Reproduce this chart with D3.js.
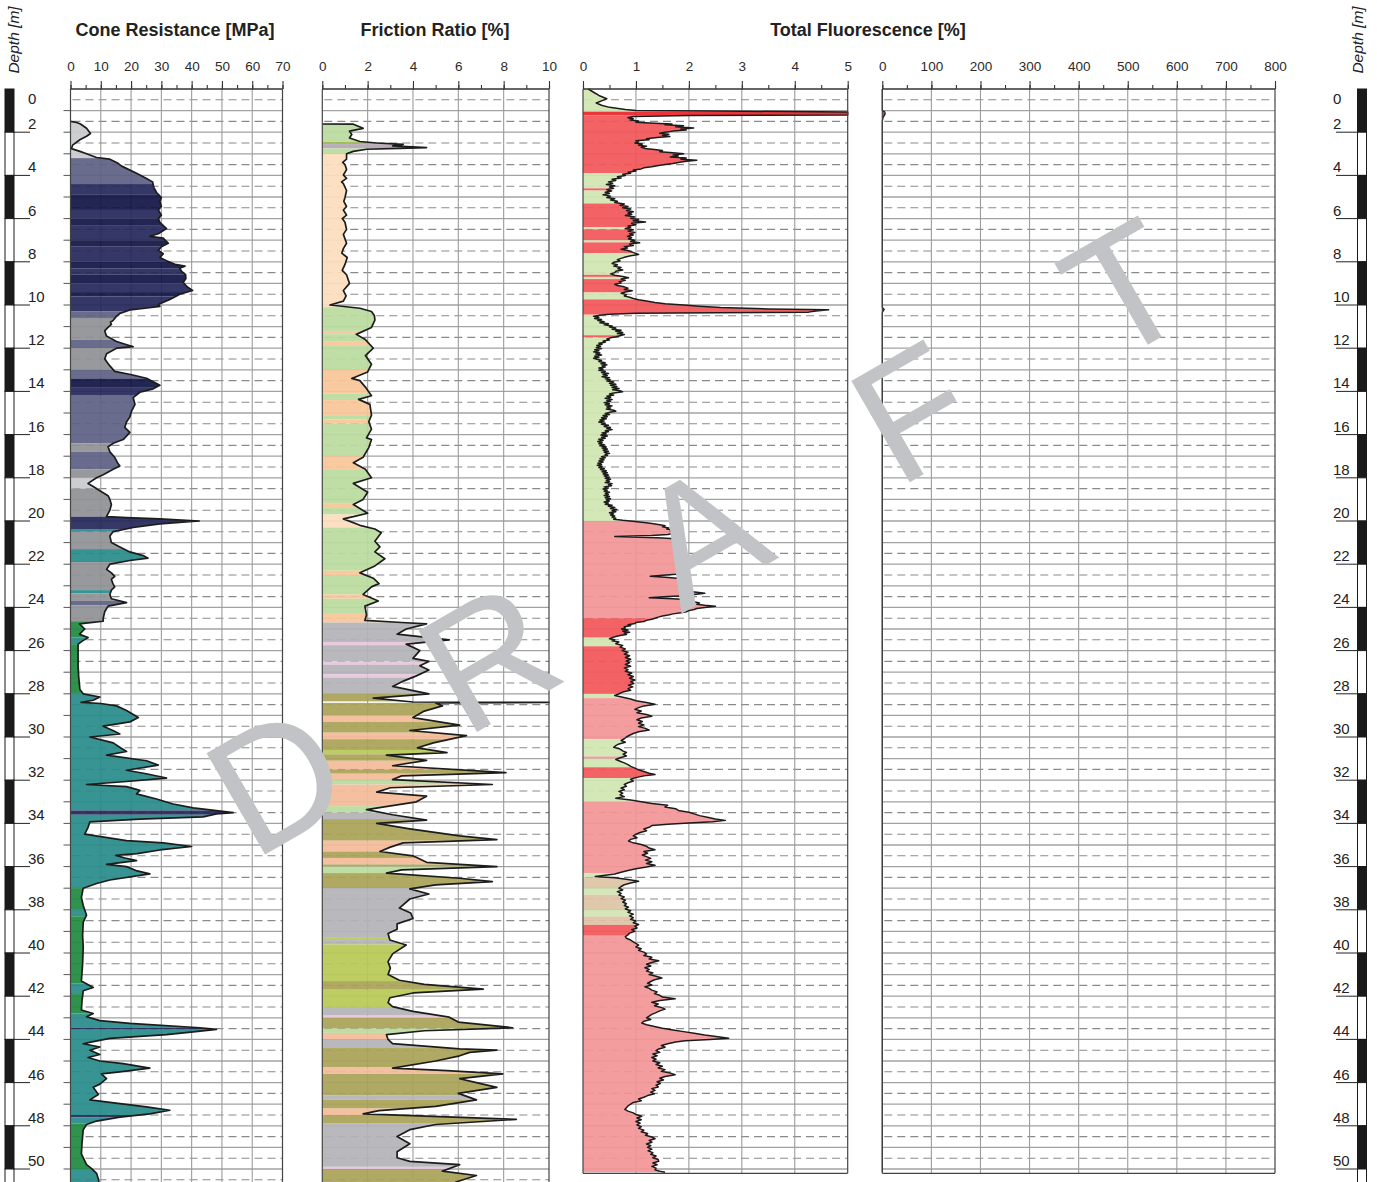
<!DOCTYPE html>
<html>
<head>
<meta charset="utf-8">
<script src="https://cdn.jsdelivr.net/npm/d3@7"></script>
<style>
  body { margin: 0; background: #fff; }
  svg { display: block; font-family: "Liberation Sans", Arial, sans-serif; }
</style>
</head>
<body>
<svg id="chart" width="1377" height="1182"></svg>
<script>
// ---- CPT log data: [depth (m), value] ----
const coneProfile = [[1.5,0],[1.55,2],[1.62,3.3],[1.82,5.3],[2.06,6.6],[2.19,5.3],[2.35,3.1],[2.6,0.7],[2.76,0.3],[2.89,3.1],[3.0,5.3],[3.17,8.6],[3.25,13],[3.44,15.7],[3.57,16.9],[3.9,21.8],[4.14,25.1],[4.3,27.1],[4.55,27.5],[4.79,28.4],[5.03,30],[5.2,29.5],[5.44,30],[5.6,29],[5.84,30],[6.0,29],[6.17,29.5],[6.46,31.7],[6.7,29],[6.82,26.2],[6.9,30.6],[7.14,32.3],[7.3,30],[7.47,29],[7.63,30.6],[7.8,29.5],[7.95,31.7],[8.12,34.5],[8.2,37.8],[8.3,36],[8.44,36.7],[8.6,38],[8.77,38.1],[8.96,37.2],[9.17,38.6],[9.33,40.3],[9.5,36.1],[9.74,32.8],[9.98,29],[10.06,29.5],[10.15,24.6],[10.23,19.6],[10.39,16.3],[10.55,15],[10.71,14.1],[10.8,13.2],[10.9,13.5],[11.05,12.3],[11.2,11.3],[11.44,11.9],[11.69,15.2],[11.93,20.7],[12.0,15.2],[12.26,11.9],[12.5,11.3],[12.82,13],[13.07,14.6],[13.23,20.2],[13.39,25.1],[13.72,29.5],[13.88,27.3],[14.04,22.9],[14.29,20.7],[14.6,21.3],[14.9,20.2],[15.18,19.6],[15.42,18.5],[15.67,17.9],[15.9,19.6],[16.23,17.4],[16.4,14.1],[16.56,12.4],[16.8,13],[17.05,14.6],[17.3,15.5],[17.45,16.3],[17.6,14.1],[17.86,10.8],[18.0,8.6],[18.26,5.8],[18.4,7.5],[18.6,9.7],[18.83,12.4],[19.0,13],[19.24,13.5],[19.5,13],[19.8,11.9],[19.84,18.5],[19.9,29.5],[20.0,42.5],[20.13,29.5],[20.3,20.7],[20.49,14.1],[20.7,13],[21.0,13.5],[21.2,16.3],[21.43,19.6],[21.6,24],[21.72,25.6],[21.83,19.6],[22.0,13],[22.24,11.9],[22.4,13.5],[22.56,14.6],[22.7,13.5],[22.9,14],[23.05,14.6],[23.2,13.5],[23.4,13],[23.6,13.5],[23.78,18.5],[23.94,12.4],[24.2,11.3],[24.5,10.8],[24.64,10.8],[24.76,3],[25.0,4.7],[25.24,3],[25.4,5.8],[25.55,4],[25.7,2.5],[26.0,2.5],[26.7,2.5],[27.2,2.7],[27.8,3.1],[28.0,4.2],[28.15,9.7],[28.3,7.5],[28.4,3.5],[28.45,10],[28.56,15.2],[28.77,18.5],[29.1,22.4],[29.3,19.6],[29.5,10.8],[29.7,14],[29.86,16.3],[30.0,6.4],[30.27,14.1],[30.5,16.5],[30.67,18.5],[30.84,11.9],[31.1,25.1],[31.3,29],[31.54,18.5],[31.7,25],[31.9,31.7],[32.06,18.5],[32.2,5.3],[32.3,18.5],[32.47,22.9],[32.63,21.8],[32.87,28.4],[33.1,33.9],[33.28,40.5],[33.5,53.7],[33.56,48.2],[33.7,43.8],[33.8,22.9],[33.93,6.4],[34.18,5.8],[34.5,4.7],[34.8,18.5],[34.9,30.6],[35.07,40],[35.23,29.5],[35.4,22],[35.48,15],[35.6,18],[35.72,21.8],[35.9,11.9],[36.0,18.5],[36.2,22],[36.34,26.2],[36.62,13],[36.78,8.6],[37.0,4.2],[37.43,3.6],[37.8,4.2],[38.25,5.3],[38.57,4.2],[39.2,4.0],[39.7,4.2],[40.5,4.0],[41.3,3.6],[41.6,7.5],[41.75,4.2],[42.2,3.8],[42.64,3.6],[42.8,7.5],[42.95,5.3],[43.13,9.7],[43.26,19.6],[43.46,42.7],[43.54,48.2],[43.65,40.5],[43.78,31.7],[43.95,13],[44.1,7.5],[44.2,4.2],[44.35,9.7],[44.5,6.4],[44.7,9.7],[44.84,5.8],[45.0,9.7],[45.12,17.4],[45.33,26.2],[45.5,16.3],[45.6,10.2],[45.82,11.9],[46.07,9.7],[46.22,7.5],[46.55,9.2],[46.8,6.4],[46.96,15.7],[47.12,25.1],[47.28,32.8],[47.45,26.2],[47.6,16.3],[47.78,8.6],[47.94,5.3],[48.18,4.2],[48.8,3.8],[49.3,3.6],[49.8,5.3],[49.97,6.9],[50.2,8.6],[50.46,9.2],[50.7,9.5],[51.0,9.0],[51.5,9.0]];

const frictionProfile = [[1.62,0],[1.63,1.37],[1.82,1.8],[1.95,1.2],[2.11,1.3],[2.27,1.2],[2.43,1.66],[2.5,2.4],[2.56,3.57],[2.63,3.1],[2.71,4.6],[2.75,3.4],[2.79,1.95],[2.89,1.37],[3.0,1.07],[3.25,1.07],[3.4,0.9],[3.5,1.0],[3.73,1.07],[3.98,0.93],[4.14,1.07],[4.3,0.85],[4.38,0.93],[4.7,1.07],[5.03,1.0],[5.2,0.95],[5.44,1.07],[5.6,0.93],[5.84,1.07],[6.0,0.88],[6.17,1.0],[6.5,1.07],[6.73,0.93],[7.14,1.07],[7.39,0.93],[7.6,0.86],[7.8,1.1],[8.12,1.0],[8.4,0.88],[8.6,1.07],[9.0,1.2],[9.33,0.93],[9.58,1.05],[9.82,0.93],[10.0,0.34],[10.15,1.66],[10.3,2.17],[10.5,2.3],[10.7,2.32],[11.04,2.17],[11.36,1.5],[11.6,1.9],[12.0,2.25],[12.34,1.9],[12.74,2.17],[13.1,2.0],[13.4,1.3],[13.5,1.66],[13.8,1.9],[14.2,2.17],[14.37,1.6],[14.6,2.1],[15.1,2.17],[15.4,2.05],[15.75,2.17],[16.15,1.95],[16.23,2.17],[16.6,2.05],[17.05,1.8],[17.3,1.37],[17.6,1.9],[18.0,2.17],[18.26,1.37],[18.67,2.0],[19.0,1.8],[19.24,1.37],[19.64,2.0],[19.8,1.37],[19.9,0.93],[20.2,1.66],[20.37,2.32],[20.54,2.6],[20.94,2.32],[21.2,2.54],[21.43,2.32],[21.75,2.76],[22.08,2.32],[22.4,1.66],[22.65,2.25],[22.9,2.5],[23.05,2.17],[23.4,1.8],[23.7,2.47],[23.94,1.88],[24.35,1.95],[24.6,1.88],[24.7,3.5],[24.76,4.6],[25.0,3.7],[25.24,3.3],[25.4,4.7],[25.5,5.6],[25.7,3.7],[26.0,4.3],[26.36,4.0],[26.5,4.7],[26.7,4.3],[26.9,4.7],[27.17,4.15],[27.4,3.6],[27.66,3.1],[28.0,4.7],[28.2,2.25],[28.38,4],[28.4,10],[28.42,5],[28.56,5.3],[28.8,4.5],[29.1,4.0],[29.45,6.06],[29.7,3.86],[29.94,6.36],[30.27,4.9],[30.5,4.2],[30.72,5.5],[30.84,2.83],[31.08,4.6],[31.33,3.1],[31.65,8.1],[31.8,3.5],[31.97,3.1],[32.2,7.5],[32.35,3.0],[32.55,2.4],[32.74,4.6],[33.0,4.15],[33.36,1.95],[33.6,3.1],[33.85,4.6],[34.0,2.4],[34.25,3.86],[34.58,6.06],[34.75,7.7],[34.9,3.57],[35.1,3.0],[35.3,2.54],[35.5,4.0],[35.8,4.6],[36.0,7.7],[36.15,3.5],[36.3,2.83],[36.54,6.06],[36.7,7.5],[36.85,5.0],[37.03,3.86],[37.27,4.7],[37.5,3.86],[37.92,3.4],[38.15,3.9],[38.4,4.0],[38.65,3.3],[38.9,3.3],[39.1,2.9],[39.4,2.98],[39.63,3.7],[40.04,3.1],[40.4,2.9],[40.7,3.0],[41.0,2.9],[41.26,3.4],[41.45,4.5],[41.67,7.1],[41.85,4.0],[42.07,2.98],[42.3,2.9],[42.48,3.1],[42.7,4.0],[42.97,5.6],[43.2,6],[43.46,8.4],[43.6,4.5],[43.78,2.83],[44.0,2.9],[44.2,3.1],[44.44,6.06],[44.5,7.7],[44.6,6.5],[44.76,6.06],[45.0,5.0],[45.33,3.1],[45.45,5.5],[45.6,7.96],[45.82,6.06],[46.0,6.8],[46.22,7.7],[46.5,6.0],[46.8,6.8],[47.1,5.0],[47.3,2.5],[47.45,1.8],[47.7,8.56],[47.94,5.0],[48.18,3.86],[48.5,3.3],[48.83,3.86],[49.2,3.3],[49.48,3.3],[49.65,3.86],[49.8,6.06],[50.1,5.3],[50.3,6.8],[50.6,5.9],[51.0,5.5],[51.5,5.5]];

const fluorescenceProfile = [[0,0.1],[0.15,0.2],[0.3,0.3],[0.45,0.45],[0.55,0.35],[0.65,0.25],[0.75,0.35],[0.85,0.5],[0.95,0.8],[1.0,1.0],[1.03,3.0],[1.06,5],[1.2,5],[1.23,2.0],[1.27,0.95],
[1.33,0.85],[1.38,0.95],[1.43,0.89],[1.48,1.05],[1.54,1.0],[1.58,1.35],[1.62,1.68],[1.66,1.55],[1.7,1.9],[1.75,1.75],[1.8,2.09],[1.85,1.85],[1.9,1.95],[1.95,1.7],[2.0,1.55],[2.05,1.45],[2.1,1.62],[2.15,1.5],[2.2,1.64],[2.25,1.4],[2.3,1.2],[2.35,1.25],[2.4,1.0],[2.45,1.05],[2.5,0.98],[2.55,1.12],[2.6,1.05],[2.65,1.2],[2.7,1.1],[2.75,1.17],[2.8,1.35],[2.85,1.5],[2.9,1.45],[2.95,1.7],[3.0,1.9],[3.05,1.7],[3.1,1.8],[3.15,1.65],[3.2,1.95],[3.25,1.85],[3.3,2.15],[3.35,1.95],[3.4,1.8],[3.45,1.7],[3.5,1.55],[3.55,1.4],[3.6,1.3],[3.65,1.15],[3.7,1.1],[3.75,0.95],[3.8,1.0],[3.85,0.85],[3.9,0.9],[3.95,0.75],[4.0,0.8],
[4.06,0.65],[4.12,0.72],[4.18,0.55],[4.24,0.62],[4.3,0.48],[4.36,0.56],[4.42,0.44],[4.48,0.6],[4.54,0.5],[4.6,0.58],[4.66,0.45],[4.72,0.54],[4.78,0.42],[4.84,0.5],[4.9,0.38],[4.96,0.52],[5.02,0.45],[5.08,0.6],[5.14,0.52],[5.2,0.65],[5.26,0.6],[5.32,0.78],[5.38,0.7],[5.44,0.85],[5.5,0.75],[5.56,0.9],[5.62,0.82],[5.68,0.95],[5.74,0.85],[5.8,0.92],[5.86,0.8],[5.92,0.98],[5.98,0.9],[6.04,1.05],[6.1,0.95],[6.16,1.18],[6.22,0.92],[6.28,1.0],[6.34,0.85],[6.4,0.9],[6.46,0.8],[6.52,0.95],[6.58,0.85],[6.64,0.98],[6.7,0.88],[6.76,0.95],[6.82,0.84],[6.88,0.92],[6.94,0.86],[7.0,0.98],[7.06,0.9],[7.12,1.07],[7.18,0.88],[7.24,0.95],[7.3,0.78],[7.36,0.84],[7.42,0.72],[7.48,0.85],[7.54,0.92],[7.6,0.98],[7.66,1.05],[7.72,0.9],[7.78,0.8],[7.84,0.72],[7.9,0.65],[7.96,0.7],[8.02,0.58],[8.08,0.55],[8.14,0.65],[8.2,0.58],[8.26,0.72],[8.32,0.66],[8.38,0.75],[8.44,0.62],[8.5,0.6],[8.56,0.52],[8.62,0.6],[8.68,0.75],[8.74,0.86],[8.8,0.72],[8.86,0.8],[8.92,0.68],[8.98,0.72],[9.04,0.6],[9.1,0.65],[9.16,0.78],[9.22,0.85],[9.28,0.78],[9.34,0.93],[9.4,0.8],[9.46,0.72],[9.52,0.82],[9.58,0.78],[9.64,0.88],[9.7,0.95],[9.76,1.05],[9.82,1.2],[9.88,1.36],[9.94,1.55],[10.0,1.9],[10.06,2.2],[10.12,2.6],[10.18,3.5],[10.22,4.64],[10.28,4.4],[10.33,4.26],[10.36,2.5],[10.38,1.0],
[10.43,0.5],[10.48,0.3],[10.52,0.2],[10.57,0.3],[10.62,0.22],[10.67,0.35],[10.72,0.28],[10.77,0.4],[10.82,0.32],[10.87,0.48],[10.92,0.4],[10.97,0.55],[11.02,0.5],[11.07,0.62],[11.12,0.55],[11.17,0.72],[11.22,0.62],[11.27,0.75],[11.32,0.65],[11.37,0.78],[11.42,0.7],[11.47,0.62],[11.52,0.52],[11.57,0.45],[11.62,0.5],[11.67,0.38],[11.72,0.42],[11.77,0.3],[11.82,0.36],[11.87,0.26],[11.92,0.33],[11.97,0.25],[12.02,0.35],[12.07,0.22],[12.12,0.3],[12.17,0.2],[12.22,0.32],[12.27,0.24],[12.32,0.35],[12.37,0.22],[12.42,0.3],[12.47,0.2],[12.52,0.28],[12.57,0.35],[12.62,0.3],[12.67,0.42],[12.72,0.34],[12.77,0.45],[12.82,0.36],[12.87,0.42],[12.92,0.3],[12.97,0.38],[13.02,0.3],[13.07,0.42],[13.12,0.35],[13.17,0.48],[13.22,0.38],[13.27,0.46],[13.32,0.36],[13.37,0.5],[13.42,0.42],[13.47,0.52],[13.52,0.45],[13.57,0.58],[13.62,0.5],[13.67,0.62],[13.72,0.52],[13.77,0.64],[13.82,0.55],[13.87,0.68],[13.92,0.56],[13.97,0.7],[14.02,0.75],[14.07,0.58],[14.12,0.5],[14.17,0.58],[14.22,0.45],[14.27,0.52],[14.32,0.42],[14.37,0.55],[14.42,0.45],[14.47,0.52],[14.52,0.4],[14.57,0.5],[14.62,0.42],[14.67,0.55],[14.72,0.45],[14.77,0.52],[14.82,0.44],[14.87,0.58],[14.92,0.62],[14.97,0.5],[15.02,0.42],[15.07,0.5],[15.12,0.38],[15.17,0.46],[15.22,0.35],[15.27,0.44],[15.32,0.32],[15.37,0.4],[15.42,0.3],[15.47,0.42],[15.52,0.35],[15.57,0.48],[15.62,0.4],[15.67,0.52],[15.72,0.45],[15.77,0.55],[15.82,0.42],[15.87,0.48],[15.92,0.36],[15.97,0.44],[16.02,0.34],[16.07,0.46],[16.12,0.35],[16.17,0.42],[16.22,0.3],[16.27,0.38],[16.32,0.28],[16.37,0.36],[16.42,0.3],[16.47,0.4],[16.52,0.32],[16.57,0.44],[16.62,0.36],[16.67,0.46],[16.72,0.38],[16.77,0.48],[16.82,0.4],[16.87,0.5],[16.92,0.42],[16.97,0.46],[17.02,0.35],[17.07,0.42],[17.12,0.32],[17.17,0.4],[17.22,0.3],[17.27,0.38],[17.32,0.28],[17.37,0.35],[17.42,0.27],[17.47,0.36],[17.52,0.3],[17.57,0.4],[17.62,0.33],[17.67,0.44],[17.72,0.36],[17.77,0.46],[17.82,0.38],[17.87,0.48],[17.92,0.4],[17.97,0.5],[18.02,0.42],[18.07,0.52],[18.12,0.44],[18.17,0.5],[18.22,0.42],[18.27,0.55],[18.32,0.48],[18.37,0.54],[18.42,0.4],[18.47,0.48],[18.52,0.38],[18.57,0.46],[18.62,0.4],[18.67,0.5],[18.72,0.42],[18.77,0.48],[18.82,0.4],[18.87,0.5],[18.92,0.42],[18.97,0.52],[19.02,0.44],[19.07,0.5],[19.12,0.4],[19.17,0.48],[19.22,0.42],[19.27,0.55],[19.32,0.48],[19.37,0.6],[19.42,0.52],[19.47,0.64],[19.52,0.55],[19.57,0.62],[19.62,0.5],[19.67,0.58],[19.72,0.52],[19.77,0.6],[19.82,0.55],[19.87,0.62],[19.92,0.58],[19.97,0.75],
[20.02,0.98],[20.07,1.15],[20.12,1.3],[20.17,1.45],[20.22,1.55],[20.27,1.5],[20.32,1.62],[20.37,1.58],[20.42,1.7],[20.47,1.65],[20.52,1.8],[20.57,1.72],[20.62,1.6],[20.67,1.3],[20.72,0.6],[20.77,1.4],[20.82,1.75],[20.87,1.82],[20.92,1.87],[20.97,1.78],[21.02,1.85],[21.07,1.75],[21.12,1.82],[21.17,1.72],[21.22,1.85],[21.27,1.78],[21.32,1.88],[21.37,1.8],[21.42,1.9],[21.47,1.82],[21.52,1.88],[21.57,1.78],[21.62,1.9],[21.67,1.84],[21.72,1.92],[21.77,1.82],[21.82,1.9],[21.87,1.75],[21.92,1.85],[21.97,1.8],[22.02,1.9],[22.07,1.82],[22.12,1.92],[22.17,1.85],[22.22,1.95],[22.27,1.86],[22.32,1.92],[22.37,1.85],[22.42,1.93],[22.47,1.75],[22.52,1.45],[22.56,1.27],[22.6,1.55],[22.65,1.78],[22.7,1.87],[22.75,1.8],[22.8,1.92],[22.85,1.85],[22.9,1.95],[22.95,1.88],[23.0,2.0],[23.05,1.92],[23.1,1.98],[23.15,1.9],[23.2,2.02],[23.25,1.95],[23.3,2.15],[23.35,2.3],[23.4,2.1],[23.45,2.05],[23.5,1.6],[23.55,1.25],[23.6,1.7],[23.65,2.0],[23.7,2.06],[23.75,2.12],[23.8,2.2],[23.85,2.15],[23.9,2.3],[23.95,2.5],[24.0,2.3],[24.05,2.15],[24.1,2.1],[24.15,2.0],[24.2,1.95],[24.25,1.85],[24.3,1.7],[24.35,1.61],[24.4,1.5],[24.45,1.42],[24.5,1.36],[24.55,1.3],[24.6,1.2],[24.65,1.15],[24.7,1.0],[24.75,0.98],[24.8,0.85],[24.85,0.9],[24.9,0.78],[24.95,0.8],[25.0,0.73],[25.05,0.85],[25.1,0.75],[25.15,0.88],[25.2,0.78],[25.25,0.82],[25.3,0.7],[25.35,0.62],[25.4,0.55],[25.45,0.5],[25.5,0.6],[25.55,0.55],[25.6,0.68],
[25.68,0.62],[25.76,0.75],[25.84,0.7],[25.92,0.8],[26.0,0.74],[26.08,0.85],[26.16,0.78],[26.24,0.88],[26.32,0.8],[26.4,0.9],[26.48,0.82],[26.56,0.88],[26.64,0.8],[26.72,0.9],[26.8,0.78],[26.88,0.85],[26.96,0.8],[27.04,0.92],[27.12,0.85],[27.2,0.95],[27.28,0.88],[27.36,0.98],[27.44,0.9],[27.52,0.96],[27.6,0.86],[27.68,0.94],[27.76,0.85],[27.84,0.9],[27.92,0.75],[28.0,0.68],[28.08,0.6],[28.16,0.75],[28.24,0.9],[28.32,1.0],[28.4,1.2],[28.48,1.36],[28.56,1.15],[28.64,1.05],[28.72,0.98],[28.8,1.1],[28.88,1.02],[28.96,1.2],[29.04,1.3],[29.12,1.1],[29.2,1.02],[29.28,1.12],[29.36,1.05],[29.44,1.15],[29.52,1.05],[29.6,1.18],[29.68,1.25],[29.76,1.05],[29.84,0.95],[29.92,0.88],[30.0,0.82],[30.08,0.78],[30.16,0.72],[30.24,0.8],[30.32,0.68],[30.4,0.62],[30.48,0.58],[30.56,0.7],[30.64,0.75],[30.72,0.82],[30.8,0.76],[30.88,0.82],[30.96,0.7],[31.04,0.62],[31.12,0.7],[31.2,0.78],[31.28,0.85],[31.36,0.9],[31.44,0.98],[31.52,1.05],[31.6,1.15],[31.68,1.25],[31.74,1.36],[31.8,1.15],[31.88,1.0],[31.96,0.9],[32.04,0.95],[32.12,0.85],[32.2,0.78],[32.28,0.82],[32.36,0.72],[32.44,0.78],[32.52,0.68],[32.6,0.75],[32.68,0.7],[32.76,0.78],[32.84,0.62],[32.92,0.9],[33.0,1.1],[33.08,1.3],[33.16,1.6],[33.24,1.55],[33.32,1.75],[33.4,1.8],[33.48,2.0],[33.56,2.1],[33.64,2.2],[33.72,2.35],[33.8,2.5],[33.86,2.69],[33.92,2.45],[33.98,2.0],[34.04,1.6],[34.1,1.3],[34.18,1.25],[34.26,1.15],[34.34,1.2],[34.42,1.08],[34.5,1.0],[34.58,0.95],[34.66,1.02],[34.74,0.9],[34.82,0.86],[34.9,0.95],[34.98,1.1],[35.06,1.2],[35.14,1.25],[35.22,1.36],[35.3,1.15],[35.38,1.22],[35.46,1.12],[35.54,1.2],[35.62,1.28],[35.7,1.18],[35.78,1.3],[35.86,1.2],[35.94,1.36],[36.02,1.2],[36.1,1.0],[36.18,0.85],[36.26,0.72],[36.34,0.6],[36.42,0.35],[36.46,0.23],[36.52,0.6],[36.6,0.85],[36.68,1.05],[36.76,0.9],[36.84,0.78],[36.92,0.72],[37.0,0.68],[37.08,0.75],[37.16,0.65],[37.24,0.72],[37.32,0.68],[37.4,0.78],[37.48,0.72],[37.56,0.8],[37.64,0.75],[37.72,0.82],[37.8,0.78],[37.88,0.86],[37.96,0.8],[38.04,0.9],[38.12,0.85],[38.2,0.95],[38.28,0.88],[38.36,0.95],[38.44,0.9],[38.52,1.0],[38.6,0.95],[38.68,1.05],[38.76,0.98],[38.84,1.02],[38.92,0.92],[39.0,0.98],[39.08,0.88],[39.16,0.85],[39.24,0.8],[39.32,0.82],[39.4,0.9],[39.48,0.95],[39.56,1.0],[39.64,1.05],[39.72,1.0],[39.8,1.1],[39.88,1.05],[39.96,1.15],[40.04,1.2],[40.12,1.15],[40.2,1.3],[40.28,1.25],[40.36,1.43],[40.44,1.3],[40.52,1.2],[40.6,1.28],[40.68,1.17],[40.76,1.25],[40.84,1.2],[40.92,1.32],[41.0,1.25],[41.08,1.38],[41.16,1.49],[41.24,1.35],[41.32,1.28],[41.4,1.22],[41.48,1.3],[41.56,1.17],[41.64,1.25],[41.72,1.3],[41.8,1.4],[41.88,1.35],[41.96,1.45],[42.04,1.5],[42.12,1.74],[42.2,1.45],[42.28,1.3],[42.36,1.42],[42.44,1.35],[42.52,1.48],[42.6,1.55],[42.68,1.45],[42.76,1.38],[42.84,1.3],[42.92,1.25],[43.0,1.2],[43.08,1.28],[43.16,1.15],[43.24,1.11],[43.32,1.2],[43.4,1.35],[43.48,1.5],[43.56,1.7],[43.64,1.9],[43.72,2.1],[43.8,2.3],[43.88,2.55],[43.95,2.75],[44.0,2.4],[44.06,1.93],[44.12,1.75],[44.2,1.6],[44.28,1.48],[44.36,1.55],[44.44,1.43],[44.52,1.38],[44.6,1.45],[44.68,1.32],[44.76,1.4],[44.84,1.3],[44.92,1.38],[45.0,1.32],[45.08,1.45],[45.16,1.38],[45.24,1.5],[45.32,1.42],[45.4,1.55],[45.48,1.48],[45.56,1.65],[45.64,1.74],[45.72,1.55],[45.8,1.45],[45.88,1.52],[45.96,1.4],[46.04,1.46],[46.12,1.38],[46.2,1.42],[46.28,1.3],[46.36,1.36],[46.44,1.28],[46.52,1.35],[46.6,1.22],[46.68,1.15],[46.76,1.05],[46.84,1.1],[46.92,0.95],[47.0,0.9],[47.08,0.85],[47.16,0.82],[47.24,0.79],[47.32,0.85],[47.4,0.95],[47.48,1.0],[47.56,1.11],[47.64,1.02],[47.72,1.1],[47.8,1.0],[47.88,1.08],[47.96,1.02],[48.04,1.1],[48.12,1.05],[48.2,1.15],[48.28,1.1],[48.36,1.22],[48.44,1.18],[48.52,1.3],[48.6,1.36],[48.68,1.25],[48.76,1.3],[48.84,1.2],[48.92,1.28],[49.0,1.22],[49.08,1.3],[49.16,1.23],[49.24,1.32],[49.32,1.28],[49.4,1.38],[49.48,1.32],[49.56,1.42],[49.64,1.43],[49.72,1.32],[49.8,1.4],[49.88,1.3],[49.96,1.38],[50.04,1.36],[50.1,1.45],[50.15,1.55]];

const fluorescenceWideProfile = [[0,0],[1.0,0],[1.05,5],[1.15,6],[1.3,2],[1.5,0],[10.1,0],[10.2,4],[10.35,0],[50.15,0]];

// ---- soil / fluorescence classification layers: [top, bottom, class] ----
const conePalette = { lightGrey:'#c9cacd', grey:'#8f9094', slate:'#5d6084', navyLight:'#24275a', navy:'#101343', teal:'#278b8a', green:'#1d8a3f', lime:'#a6d36e' };
const coneLayers = [[1.5,2.72,'lightGrey'],[2.72,2.82,'lime'],[2.82,3.2,'lightGrey'],[3.2,4.4,'slate'],[4.4,4.9,'navyLight'],[4.9,5.6,'navy'],[5.6,6.0,'navyLight'],[6.0,6.3,'navy'],[6.3,7.0,'navyLight'],[7.0,7.3,'navy'],[7.3,8.0,'navyLight'],[8.0,8.3,'navy'],[8.3,8.6,'navyLight'],[8.6,9.0,'navy'],[9.0,9.4,'navyLight'],[9.4,9.6,'navy'],[9.6,10.3,'navyLight'],[10.3,10.6,'slate'],[10.6,11.6,'grey'],[11.6,12.0,'slate'],[12.0,13.0,'grey'],[13.0,13.4,'slate'],[13.4,13.8,'navy'],[13.8,14.2,'navyLight'],[14.2,16.4,'slate'],[16.4,16.8,'grey'],[16.8,17.6,'slate'],[17.6,18.0,'grey'],[18.0,18.5,'lightGrey'],[18.5,19.8,'grey'],[19.8,20.4,'navyLight'],[20.4,20.5,'teal'],[20.5,21.3,'grey'],[21.3,21.9,'teal'],[21.9,23.2,'grey'],[23.2,23.35,'teal'],[23.35,23.7,'grey'],[23.7,23.9,'slate'],[23.9,24.64,'grey'],[24.64,25.4,'green'],[25.4,25.7,'teal'],[25.7,28.0,'green'],[28.0,33.4,'teal'],[33.4,33.6,'navyLight'],[33.6,37.0,'teal'],[37.0,38.0,'green'],[38.0,38.3,'teal'],[38.3,41.4,'green'],[41.4,41.9,'teal'],[41.9,42.8,'green'],[42.8,43.45,'teal'],[43.45,43.55,'navyLight'],[43.55,47.5,'teal'],[47.5,47.6,'navyLight'],[47.6,47.9,'teal'],[47.9,50.0,'green'],[50.0,51.5,'teal']];

const frictionPalette = { lightGreen:'#b9db9e', peach:'#fddcbc', orange:'#f9c697', mauve:'#b3a5b5', grey:'#b3b3b7', pink:'#e8c4dc', olive:'#a9a256', salmon:'#f4bb97', yellowGreen:'#b9c955', oliveGreen:'#9fba4a' };
const frictionLayers = [[1.62,2.45,'lightGreen'],[2.45,2.55,'oliveGreen'],[2.55,2.75,'mauve'],[2.75,3.0,'lightGreen'],[3.0,10.1,'peach'],[10.1,11.2,'lightGreen'],[11.2,11.35,'orange'],[11.35,11.7,'lightGreen'],[11.7,11.9,'orange'],[11.9,13.0,'lightGreen'],[13.0,14.1,'orange'],[14.1,14.4,'lightGreen'],[14.4,15.1,'orange'],[15.1,15.3,'lightGreen'],[15.3,15.5,'orange'],[15.5,17.0,'lightGreen'],[17.0,17.6,'orange'],[17.6,19.2,'lightGreen'],[19.2,19.4,'orange'],[19.4,19.7,'lightGreen'],[19.7,20.3,'peach'],[20.3,22.3,'lightGreen'],[22.3,22.5,'orange'],[22.5,23.4,'lightGreen'],[23.4,23.6,'orange'],[23.6,24.3,'lightGreen'],[24.3,24.7,'orange'],[24.7,25.6,'grey'],[25.6,25.75,'pink'],[25.75,26.5,'grey'],[26.5,26.65,'pink'],[26.65,27.1,'grey'],[27.1,27.25,'pink'],[27.25,28.0,'grey'],[28.0,28.35,'olive'],[28.42,29.0,'olive'],[29.0,29.3,'salmon'],[29.3,29.8,'olive'],[29.8,30.1,'salmon'],[30.1,30.6,'olive'],[30.6,30.8,'yellowGreen'],[30.8,31.1,'olive'],[31.1,31.5,'salmon'],[31.5,31.7,'olive'],[31.7,32.0,'salmon'],[32.0,32.2,'lightGreen'],[32.2,33.2,'salmon'],[33.2,33.5,'lightGreen'],[33.5,33.8,'grey'],[33.8,34.8,'olive'],[34.8,35.3,'salmon'],[35.3,35.6,'olive'],[35.6,35.9,'salmon'],[35.9,36.0,'olive'],[36.0,36.3,'lightGreen'],[36.3,37.0,'olive'],[37.0,39.3,'grey'],[39.3,39.4,'yellowGreen'],[39.4,39.6,'grey'],[39.6,41.3,'yellowGreen'],[41.3,41.7,'olive'],[41.7,42.5,'yellowGreen'],[42.5,42.9,'grey'],[42.9,43.0,'pink'],[43.0,43.5,'olive'],[43.5,43.7,'lightGreen'],[43.7,44.0,'salmon'],[44.0,44.4,'grey'],[44.4,45.3,'olive'],[45.3,45.6,'salmon'],[45.6,46.6,'olive'],[46.6,46.8,'grey'],[46.8,47.2,'olive'],[47.2,47.5,'salmon'],[47.5,47.9,'olive'],[47.9,49.9,'grey'],[49.9,50.0,'pink'],[50.0,51.5,'olive']];

const fluoPalette = { green:'#cfe5b1', red:'#ec2327', redMid:'#f25658', rose:'#f39597', tan:'#dcc3a5' };
const fluoLayers = [[0,1.05,'green'],[1.05,1.22,'red'],[1.22,3.9,'redMid'],[3.9,4.6,'green'],[4.6,4.7,'redMid'],[4.7,5.3,'green'],[5.3,6.4,'redMid'],[6.4,6.5,'green'],[6.5,7.0,'redMid'],[7.0,7.1,'green'],[7.1,7.6,'redMid'],[7.6,8.6,'green'],[8.6,8.7,'redMid'],[8.7,8.8,'green'],[8.8,9.42,'redMid'],[9.42,9.74,'green'],[9.74,10.45,'redMid'],[10.45,11.4,'green'],[11.4,11.5,'redMid'],[11.5,20.0,'green'],[20.0,24.5,'rose'],[24.5,25.4,'redMid'],[25.4,25.8,'green'],[25.8,28.0,'redMid'],[28.0,28.2,'green'],[28.2,30.1,'rose'],[30.1,30.9,'green'],[30.9,31.0,'rose'],[31.0,31.4,'green'],[31.4,31.9,'redMid'],[31.9,33.0,'green'],[33.0,36.3,'rose'],[36.3,36.5,'green'],[36.5,37.0,'tan'],[37.0,37.3,'green'],[37.3,38.0,'tan'],[38.0,38.3,'green'],[38.3,38.7,'tan'],[38.7,39.2,'redMid'],[39.2,50.2,'rose']];
const fluoWideLayers = [[0,50.2,'red']];

// ---- axis tick values ----
const coneTicks = [0,10,20,30,40,50,60,70];
const frictionTicks = [0,2,4,6,8,10];
const fluoTicks = [0,1,2,3,4,5];
const fluoWideTicks = [0,100,200,300,400,500,600,700,800];
const depthLabels = d3.range(0, 52, 2);

// ---- layout ----
const svg = d3.select('#chart');
const plotTop = 89, pxPerMetre = 21.6;
const y = d3.scaleLinear().domain([0, 51.5]).range([plotTop, plotTop + 51.5 * pxPerMetre]);

const panels = [
  { key:'cone', x0:70.5, x1:282.5, domain:[0,70], ticks:coneTicks, minor:5, profile:coneProfile, layers:coneLayers, palette:conePalette, end:51.5, title:'Cone Resistance [MPa]', titleX:175, lineWidth:1.7 },
  { key:'friction', x0:322.3, x1:549, domain:[0,10], ticks:frictionTicks, minor:1, profile:frictionProfile, layers:frictionLayers, palette:frictionPalette, end:51.5, title:'Friction Ratio [%]', titleX:435, lineWidth:1.7 },
  { key:'fluo', x0:583, x1:847.7, domain:[0,5], ticks:fluoTicks, minor:0.5, profile:fluorescenceProfile, layers:fluoLayers, palette:fluoPalette, end:50.2, title:'Total Fluorescence [%]', titleX:868, lineWidth:1.5 },
  { key:'fluoWide', x0:882.3, x1:1275, domain:[0,800], ticks:fluoWideTicks, minor:50, profile:fluorescenceWideProfile, layers:fluoWideLayers, palette:fluoPalette, end:50.2, title:null, lineWidth:1.2 }
];

const defs = svg.append('defs');

panels.forEach(p => {
  const x = d3.scaleLinear().domain(p.domain).range([p.x0, p.x1]);
  const g = svg.append('g').attr('class', 'panel-' + p.key);
  const yEnd = y(p.end);

  // horizontal grid: solid every metre, dashed at half metres
  const metres = d3.range(1, Math.floor(p.end) + 1).filter(d => d < p.end);
  const halves = d3.range(0.5, p.end, 1);
  g.selectAll('line.hgrid').data(metres).join('line')
    .attr('x1', p.x0).attr('x2', p.x1)
    .attr('y1', d => y(d)).attr('y2', d => y(d))
    .attr('stroke', '#a2a2a2').attr('stroke-width', 1.3);
  g.selectAll('line.hdash').data(halves).join('line')
    .attr('x1', p.x0 + 2).attr('x2', p.x1)
    .attr('y1', d => y(d)).attr('y2', d => y(d))
    .attr('stroke', '#8a8a8a').attr('stroke-width', 1.1)
    .attr('stroke-dasharray', '8,5');
  // vertical grid
  g.selectAll('line.vgrid').data(p.ticks.slice(1, -1)).join('line')
    .attr('x1', d => x(d)).attr('x2', d => x(d))
    .attr('y1', plotTop).attr('y2', yEnd)
    .attr('stroke', '#9c9c9c').attr('stroke-width', 1.1);

  // filled profile coloured by classification layers
  const clipId = 'clip-' + p.key;
  const area = d3.area().curve(d3.curveLinear)
    .y(d => y(d[0])).x0(x(0)).x1(d => x(Math.min(d[1], p.domain[1])));
  defs.append('clipPath').attr('id', clipId).append('path').attr('d', area(p.profile));
  g.append('g').attr('clip-path', `url(#${clipId})`)
    .selectAll('rect').data(p.layers).join('rect')
    .attr('x', p.x0).attr('width', p.x1 - p.x0)
    .attr('y', d => y(d[0])).attr('height', d => y(d[1]) - y(d[0]))
    .attr('fill', d => p.palette[d[2]]).attr('opacity', 0.92);

  // profile line
  const line = d3.line().x(d => x(Math.min(d[1], p.domain[1]))).y(d => y(d[0]));
  g.append('path').attr('d', line(p.profile))
    .attr('fill', 'none').attr('stroke', '#1c1c1c').attr('stroke-width', p.lineWidth)
    .attr('stroke-linejoin', 'round');

  // frame
  g.append('line').attr('x1', p.x0).attr('x2', p.x1).attr('y1', plotTop).attr('y2', plotTop)
    .attr('stroke', '#333').attr('stroke-width', 1.3);
  [p.x0, p.x1].forEach(xx => g.append('line').attr('x1', xx).attr('x2', xx)
    .attr('y1', plotTop).attr('y2', yEnd).attr('stroke', '#444').attr('stroke-width', 1.2));
  if (p.end < 51) {
    g.append('line').attr('x1', p.x0).attr('x2', p.x1).attr('y1', yEnd).attr('y2', yEnd)
      .attr('stroke', '#444').attr('stroke-width', 1.2);
  }

  // top axis: major ticks with labels, minor ticks without
  const minorVals = d3.range(p.domain[0], p.domain[1] + 1e-9, p.minor);
  const minorAxis = d3.axisTop(x).tickValues(minorVals).tickSize(4).tickFormat('');
  const majorAxis = d3.axisTop(x).tickValues(p.ticks).tickSize(8).tickPadding(10).tickFormat(d3.format('d'));
  const ga = svg.append('g').attr('transform', `translate(0,${plotTop})`);
  ga.call(minorAxis);
  const gb = svg.append('g').attr('transform', `translate(0,${plotTop})`);
  gb.call(majorAxis);
  [ga, gb].forEach(a => {
    a.select('.domain').remove();
    a.selectAll('.tick line').attr('stroke', '#333').attr('stroke-width', 1.1);
  });
  gb.selectAll('.tick text').attr('font-size', 13.5).attr('fill', '#2b2b2b')
    .attr('font-family', '"Liberation Sans", Arial, sans-serif');

  if (p.title) {
    svg.append('text').attr('x', p.titleX).attr('y', 36).attr('text-anchor', 'middle')
      .attr('font-size', 18).attr('font-weight', 'bold').attr('fill', '#222').text(p.title);
  }

  // small depth ticks on the outer side of the first track
  if (p.key === 'cone') {
    svg.append('g').selectAll('line').data(d3.range(1, 52)).join('line')
      .attr('x1', p.x0 - 7).attr('x2', p.x0).attr('y1', d => y(d)).attr('y2', d => y(d))
      .attr('stroke', '#555').attr('stroke-width', 1);
  }
});

// ---- depth scale bars ----
function depthBar(barX, tickX1, tickX2, labelX) {
  const g = svg.append('g');
  const segs = d3.range(0, 52, 2);
  g.selectAll('rect.seg').data(segs).join('rect')
    .attr('x', barX).attr('width', 9)
    .attr('y', d => y(d)).attr('height', d => y(d + 2) - y(d))
    .attr('fill', d => (d / 2) % 2 === 0 ? '#1a1a1a' : '#fff')
    .attr('stroke', '#1a1a1a').attr('stroke-width', 1);
  g.selectAll('line.dt').data(depthLabels.filter(d => d > 0)).join('line')
    .attr('x1', tickX1).attr('x2', tickX2).attr('y1', d => y(d)).attr('y2', d => y(d))
    .attr('stroke', '#222').attr('stroke-width', 1);
  g.selectAll('text').data(depthLabels).join('text')
    .attr('x', labelX).attr('y', d => d === 0 ? y(d) + 15 : y(d) - 3)
    .attr('font-size', 15).attr('fill', '#222').text(d => d);
}
depthBar(5, 13, 30, 28);
depthBar(1357.5, 1336, 1358, 1333);

[[14, 40], [1358, 40]].forEach(([cx, cy]) => {
  svg.append('text').attr('transform', `translate(${cx + 5},${cy}) rotate(-90)`)
    .attr('text-anchor', 'middle').attr('font-size', 15.5).attr('font-style', 'italic')
    .attr('fill', '#222').text('Depth [m]');
});

// ---- DRAFT watermark ----
const stamp = svg.append('g').attr('transform', 'translate(700,533) rotate(-30)');
['D', 'R', 'A', 'F', 'T'].forEach((ch, i) => {
  stamp.append('text').attr('x', (i - 2) * 245).attr('y', 170 * 0.358)
    .attr('text-anchor', 'middle').attr('font-size', 170)
    .attr('fill', '#c2c3c6').text(ch);
});
</script>
</body>
</html>
